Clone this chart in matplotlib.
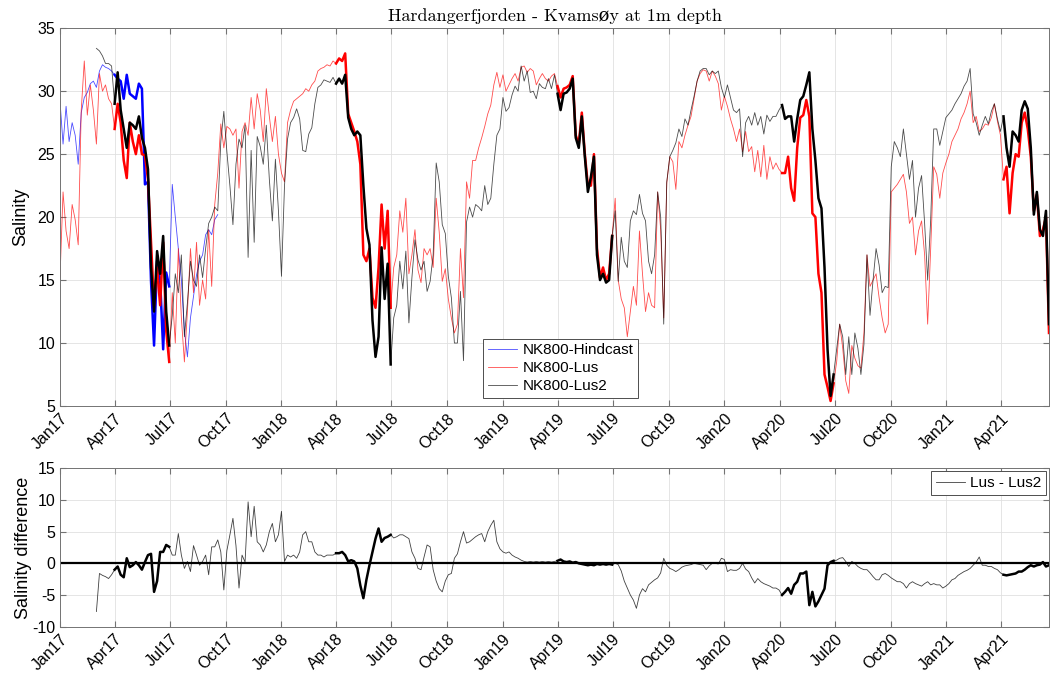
import numpy as np
import pandas as pd
import matplotlib
matplotlib.use("Agg")
import matplotlib.pyplot as plt
import matplotlib.dates as mdates

plt.rcParams['font.family'] = ['Liberation Sans', 'DejaVu Sans']
plt.rcParams['axes.unicode_minus'] = False

# salinity at 1 m, every 5 days
# NK800-Lus, from 2017-01-01
lus = [15.2, 22.0, 18.9, 17.5, 21.0, 19.8, 17.8, 28.5, 32.4, 28.1,
       30.5, 28.5, 25.8, 31.4, 30.0, 30.5, 29.4, 29.0, 27.0, 29.0,
       27.5, 24.5, 23.1, 27.5, 26.0, 25.0, 26.5, 25.0, 24.9, 23.0,
       18.0, 13.0, 16.0, 13.0, 18.0, 11.0, 8.5, 14.0, 10.0, 17.5,
       12.0, 8.5, 12.5, 17.5, 14.0, 18.0, 13.0, 15.0, 13.5, 19.0,
       14.5, 21.0, 23.5, 27.4, 25.5, 27.2, 27.0, 26.5, 27.0, 22.3,
       26.8, 27.5, 26.5, 29.5, 27.0, 29.8, 28.5, 26.0, 30.2, 28.0,
       26.0, 28.0, 25.0, 23.5, 22.8, 27.5, 28.5, 29.2, 29.4, 29.6,
       29.8, 30.2, 30.0, 30.5, 30.8, 31.6, 31.8, 31.9, 32.1, 32.0,
       32.4, 32.2, 32.6, 32.4, 33.0, 28.2, 27.5, 26.8, 26.0, 24.2,
       17.0, 16.5, 17.5, 13.6, 12.8, 16.0, 21.0, 17.5, 20.5, 12.8,
       16.0, 17.0, 20.5, 18.8, 21.5, 15.5, 17.0, 19.0, 15.8, 14.8,
       17.5, 17.0, 17.5, 16.0, 21.5, 18.8, 14.9, 15.9, 13.5, 12.0,
       10.8, 11.5, 17.5, 13.6, 22.8, 21.5, 24.5, 24.5, 25.5, 26.3,
       27.2, 28.2, 28.9, 30.5, 31.5, 30.3, 31.3, 30.0, 30.5, 31.0,
       31.4, 30.8, 31.9, 32.0, 31.5, 31.8, 31.6, 30.5, 31.0, 31.4,
       31.0, 30.8, 31.2, 31.4, 30.4, 29.5, 30.2, 30.3, 30.5, 31.2,
       26.5, 25.8, 28.3, 25.0, 22.5, 22.5, 25.0, 17.5, 15.2, 16.0,
       15.0, 15.5, 18.5, 21.5, 15.0, 13.5, 12.8, 10.5, 12.5, 14.5,
       13.0, 18.9, 15.5, 12.5, 14.0, 13.0, 12.8, 22.0, 19.0, 12.0,
       22.7, 24.8, 24.4, 22.2, 26.0, 25.5, 26.5, 27.3, 28.0, 29.4,
       30.8, 31.4, 31.7, 31.6, 30.8, 31.6, 31.2, 30.6, 28.5, 29.6,
       28.8, 27.8, 27.0, 26.0, 27.0, 25.2, 26.8, 25.2, 25.6, 23.6,
       25.3, 23.2, 25.7, 23.0, 24.8, 23.8, 24.3, 23.8, 23.5, 23.5,
       24.8, 22.3, 21.3, 25.5, 27.9, 28.1, 29.3, 28.0, 20.3, 20.0,
       15.5, 14.0, 7.5, 6.5, 5.4, 6.8, 8.5, 11.5, 9.6, 7.0,
       6.0, 9.8, 8.8, 8.2, 8.0, 10.8, 17.0, 14.5, 15.0, 15.5,
       13.6, 12.0, 10.8, 11.5, 22.0, 22.3, 22.6, 23.0, 23.4, 22.0,
       19.5, 20.0, 17.0, 18.9, 19.7, 17.0, 11.5, 17.5, 24.0, 23.4,
       21.5, 23.5, 24.3, 25.0, 26.0, 26.5, 27.0, 27.8, 28.3, 29.0,
       30.0, 27.5, 28.0, 26.8, 27.0, 27.4, 27.3, 27.9, 29.0, 27.6,
       26.5, 23.0, 24.0, 20.3, 23.5, 25.0, 24.8, 27.5, 28.3, 27.0,
       24.8, 20.5, 21.8, 18.5, 19.0, 20.0, 10.8]

# NK800-Lus2, from 2017-03-02
lus2 = [33.4, 33.2, 32.8, 32.2, 32.2, 32.0, 29.0, 31.5,
        28.5, 27.0, 25.5, 27.5, 27.3, 27.0, 28.0, 26.3, 25.5, 23.8,
        16.0, 12.5, 17.3, 15.5, 18.5, 12.5, 9.8, 12.2, 15.5, 14.0,
        17.0, 10.5, 13.2, 16.5, 15.0, 14.5, 17.0, 15.2, 17.5, 19.5,
        20.0, 20.8, 20.5, 26.0, 28.4, 25.2, 22.5, 19.4, 24.2, 26.2,
        25.5, 27.3, 16.8, 25.3, 18.0, 26.4, 25.6, 24.2, 27.3, 23.0,
        19.7, 24.6, 20.5, 15.3, 22.5, 26.2, 27.5, 27.9, 28.6, 27.8,
        25.3, 25.2, 26.6, 27.1, 29.0, 30.3, 30.5, 30.9, 30.8, 30.7,
        31.1, 30.6, 31.0, 30.6, 31.3, 27.9, 27.0, 26.5, 26.8, 26.5,
        22.5, 19.1, 17.8, 11.8, 8.9, 10.5, 17.6, 13.5, 16.3, 8.3,
        12.0, 13.0, 16.5, 14.3, 17.3, 11.6, 15.2, 18.2, 16.6, 15.8,
        16.5, 14.1, 14.9, 17.0, 24.3, 22.8, 19.4, 18.7, 15.3, 13.6,
        10.0, 10.0, 14.1, 8.6, 19.6, 20.8, 20.0, 21.0, 20.8, 20.5,
        22.5, 21.0, 21.5, 24.2, 26.5, 27.0, 29.5, 28.4, 28.7, 29.7,
        30.4, 30.0, 32.0, 30.8, 31.6, 29.9, 30.0, 29.4, 30.6, 30.3,
        30.2, 31.0, 30.2, 31.3, 29.8, 28.5, 29.8, 29.9, 30.2, 31.0,
        26.3, 25.5, 28.0, 24.8, 22.0, 23.2, 24.8, 17.0, 15.0, 15.5,
        14.8, 15.0, 18.5, 20.5, 14.9, 18.4, 16.5, 16.0, 19.7, 20.5,
        20.2, 21.8, 20.3, 19.7, 16.5, 15.5, 17.0, 22.0, 20.0, 11.5,
        22.8, 24.8, 25.3, 25.9, 27.0, 26.4, 27.8, 27.3, 28.5, 29.6,
        30.8, 31.6, 31.8, 31.8, 31.3, 31.6, 31.4, 31.6, 30.3, 29.5,
        30.5, 29.5, 28.5, 28.3, 28.6, 24.8, 27.5, 28.0, 27.3, 28.3,
        27.3, 28.0, 26.6, 28.1, 27.6, 28.0, 28.0, 28.5, 28.9, 27.8,
        28.0, 28.0, 26.0, 27.8, 29.3, 29.6, 30.5, 31.5, 27.0, 24.5,
        21.5, 20.7, 16.0, 9.5, 5.8, 7.5, 9.5, 11.5, 10.5, 7.5,
        10.5, 7.5, 10.8, 9.6, 7.5, 9.9, 17.0, 12.2, 15.0, 17.5,
        16.2, 14.0, 14.5, 14.4, 24.0, 26.0, 25.5, 24.8, 27.0, 25.0,
        23.0, 24.5, 20.0, 22.3, 23.3, 19.5, 15.0, 19.8, 27.0, 27.0,
        25.7, 26.8, 27.9, 28.2, 28.5, 29.0, 29.4, 29.8, 30.4, 30.8,
        31.8, 28.2, 27.5, 26.5, 27.3, 28.0, 27.4, 28.4, 29.0, 27.8,
        26.8, 28.0, 25.5, 24.0, 26.8, 26.5, 26.0, 28.5, 29.2, 28.6,
        25.5, 20.2, 22.0, 19.0, 18.5, 20.5, 11.5]

# NK800-Hindcast, from 2017-01-01
hindcast = [29.2, 25.8, 28.8, 26.0, 27.5, 26.5, 24.2, 28.3, 29.5, 29.9,
            30.6, 30.8, 30.3, 31.6, 32.1, 31.9, 31.8, 31.6, 31.3, 31.0,
            30.8, 29.4, 31.3, 29.8, 29.6, 29.4, 30.6, 30.2, 22.6, 22.8,
            14.9, 9.8, 16.5, 15.0, 9.5, 15.6, 14.5, 22.6, 20.0, 17.5,
            15.0, 11.0, 8.9, 12.0, 13.7, 15.4, 16.5, 17.0, 18.6, 19.0,
            18.6, 19.8, 20.2]

# Lus - Lus2, from 2017-03-02
lus_minus_lus2 = [-7.6, -1.6, -1.9, -2.1, -2.4, -1.8, -1.0, -0.5,
                  -1.8, -2.2, 0.8, -0.6, -0.3, 0.2, -0.3, -1.0, 0.2, 1.3,
                  1.5, -4.5, -2.8, 1.8, 1.8, 2.9, 2.6, 1.3, 1.3, 4.7,
                  1.3, -0.8, 0.3, -1.3, 2.8, 1.3, -0.3, 0.3, 1.3, -1.8,
                  2.6, 2.6, 3.7, 1.8, -4.2, 2.0, 4.5, 7.1, 2.8, -3.9,
                  1.3, 0.2, 9.7, 4.2, 9.0, 3.4, 2.9, 1.8, 2.9, 5.0,
                  6.3, 3.4, 4.5, 8.2, 0.3, 1.3, 1.0, 1.3, 0.8, 1.8,
                  4.5, 5.0, 3.4, 3.4, 1.8, 1.3, 1.3, 1.0, 1.3, 1.3,
                  1.3, 1.6, 1.6, 1.8, 1.3, 0.3, 0.5, 0.3, -0.8, -3.5,
                  -5.5, -2.6, -0.3, 1.8, 3.9, 5.5, 3.4, 4.0, 4.2, 4.5,
                  4.0, 4.2, 4.5, 4.5, 4.2, 3.9, 1.8, 0.8, -0.8, -1.0,
                  1.0, 2.9, 2.6, -1.0, -2.8, -4.0, -4.5, -2.8, -1.8, -1.6,
                  0.8, 1.5, 3.4, 5.0, 3.2, 3.4, 3.8, 4.2, 4.5, 4.7,
                  3.4, 5.0, 6.0, 6.8, 3.4, 2.3, 1.8, 1.6, 1.8, 1.3,
                  1.0, 0.8, 0.5, 0.3, 0.2, 0.3, 0.2, 0.3, 0.2, 0.3,
                  0.2, 0.3, 0.2, 0.3, 0.4, 0.6, 0.3, 0.2, 0.3, 0.1,
                  0.2, 0.0, -0.1, -0.2, -0.3, -0.2, -0.3, -0.1, -0.2, -0.1,
                  -0.2, -0.1, -0.2, 0.0, -0.2, -1.2, -2.8, -3.9, -5.0, -5.8,
                  -7.1, -5.0, -4.0, -4.5, -3.4, -3.0, -2.6, -2.3, -1.5, 0.8,
                  -0.3, -0.8, -1.0, -1.3, -1.0, -0.6, -0.4, -0.3, -0.2, 0.0,
                  -0.1, -0.2, -0.3, -1.0, -0.4, 0.0, 0.0, -0.1, 0.8, 0.6,
                  -1.3, -1.0, -1.1, -1.1, -0.8, 0.0, -0.9, -1.3, -2.3, -3.1,
                  -2.4, -2.9, -3.2, -3.4, -3.6, -3.9, -3.9, -4.2, -5.0, -4.5,
                  -3.9, -4.8, -3.4, -2.9, -1.6, -1.6, -1.3, -6.6, -4.5, -6.8,
                  -6.0, -5.0, -4.0, -0.3, 0.2, 0.4, 0.5, 0.8, 0.9, 0.3,
                  -0.5, 0.3, 0.0, -0.5, -0.8, -1.0, -1.0, -1.5, -2.1, -2.6,
                  -2.6, -1.8, -1.6, -1.9, -2.3, -2.6, -2.9, -2.9, -3.2, -3.9,
                  -3.2, -2.9, -3.2, -3.4, -3.6, -3.2, -2.9, -3.4, -3.2, -3.4,
                  -3.4, -3.9, -3.6, -3.2, -2.6, -2.4, -1.9, -1.6, -1.3, -1.1,
                  -0.8, -0.3, 0.2, 1.0, -0.3, -0.3, -0.5, -0.5, -0.8, -1.0,
                  -1.5, -1.8, -1.9, -1.8, -1.7, -1.6, -1.3, -1.3, -1.0, -0.6,
                  -0.3, -0.5, -0.3, -0.2, 0.2, -0.5, -0.3]

# spring periods drawn with a thick line
obs_periods = [('2017-04-01', '2017-07-01'), ('2018-04-01', '2018-07-01'),
               ('2019-04-01', '2019-07-01'), ('2020-04-01', '2020-07-01'),
               ('2021-04-01', '2021-07-01')]

t_lus = pd.date_range('2017-01-01', periods=len(lus), freq='5D')
t_lus2 = pd.date_range('2017-03-02', periods=len(lus2), freq='5D')
t_hind = pd.date_range('2017-01-01', periods=len(hindcast), freq='5D')
t_diff = pd.date_range('2017-03-02', periods=len(lus_minus_lus2), freq='5D')

series = [(t_hind, np.array(hindcast), 'b', 'NK800-Hindcast'),
          (t_lus, np.array(lus), 'r', 'NK800-Lus'),
          (t_lus2, np.array(lus2), 'k', 'NK800-Lus2')]


def thick(ax, t, y, color):
    for a, b in obs_periods:
        m = (t >= a) & (t <= b)
        if m.sum() > 1:
            ax.plot(t[m], y[m], color=color, lw=1.8)


def style(ax):
    ax.grid(True, color='0.88', lw=0.6)
    ax.set_axisbelow(True)
    for s in ax.spines.values():
        s.set_color('0.45')
        s.set_linewidth(0.7)
    ax.tick_params(direction='in', top=True, right=True, length=4,
                   color='0.45', labelsize=11.5)
    ticks = pd.date_range('2017-01-01', '2021-04-01', freq='QS')
    ax.set_xticks(ticks)
    ax.xaxis.set_major_formatter(mdates.DateFormatter('%b%y'))
    for lab in ax.get_xticklabels():
        lab.set_rotation(45)
        lab.set_ha('right')
        lab.set_va('top')
        lab.set_rotation_mode('anchor')
    ax.set_xlim(pd.Timestamp('2017-01-01'), pd.Timestamp('2021-06-19'))


fig = plt.figure(figsize=(10.51, 6.77), dpi=100)
ax1 = fig.add_axes([0.0571, 0.4003, 0.941, 0.558])
ax2 = fig.add_axes([0.0571, 0.0743, 0.941, 0.234])

handles = []
for t, y, c, name in series:
    h, = ax1.plot(t, y, color=c, lw=0.6, alpha=0.7, label=name)
    handles.append(h)
for t, y, c, name in series:
    thick(ax1, t, y, c)

ax1.set_ylim(5, 35)
ax1.set_yticks([5, 10, 15, 20, 25, 30, 35])
ax1.set_ylabel('Salinity', fontsize=13, labelpad=6)
ax1.set_title('Hardangerfjorden - Kvamsøy at 1m depth',
              family=['cmr10', 'DejaVu Serif'], fontsize=13, pad=5)
style(ax1)
leg = ax1.legend(handles=handles, loc='lower left', bbox_to_anchor=(0.428, 0.022),
                 fontsize=11, fancybox=False, framealpha=1, edgecolor='0.3',
                 handlelength=1.9, handletextpad=0.35, borderpad=0.3,
                 labelspacing=0.25, borderaxespad=0)
leg.get_frame().set_linewidth(0.7)

dy = np.array(lus_minus_lus2)
ax2.axhline(0, color='k', lw=1.6)
ax2.plot(t_diff, dy, color='k', lw=0.6, alpha=0.75, label='Lus - Lus2')
thick(ax2, t_diff, dy, 'k')
ax2.set_ylim(-10, 15)
ax2.set_yticks([-10, -5, 0, 5, 10, 15])
ax2.set_ylabel('Salinity difference', fontsize=13, labelpad=0)
style(ax2)
leg2 = ax2.legend(loc='upper right', fontsize=11, fancybox=False, framealpha=1,
                  edgecolor='0.3', handlelength=1.9, handletextpad=0.35,
                  borderpad=0.3, borderaxespad=0.2)
leg2.get_frame().set_linewidth(0.7)

fig.savefig('out.png', dpi=100)
